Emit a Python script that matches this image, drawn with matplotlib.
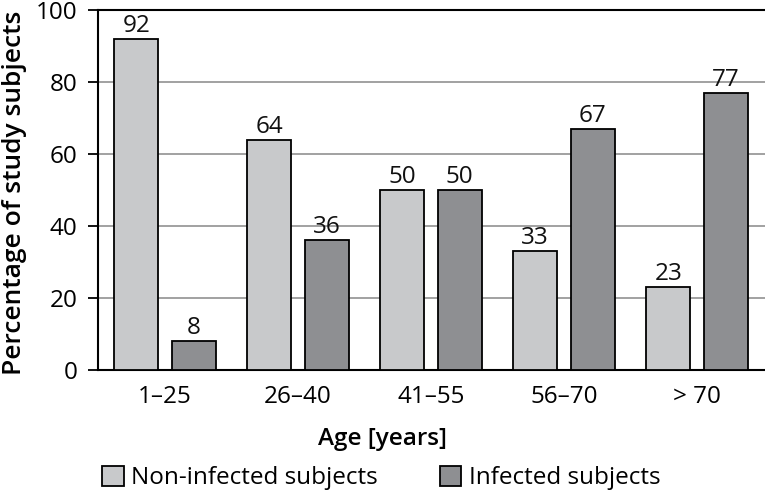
import numpy as np
import matplotlib.pyplot as plt
from matplotlib.patches import Patch

# datos
grupos = ['1–25', '26–40', '41–55', '56–70', '> 70']
no_infectados = [92, 64, 50, 33, 23]
infectados = [8, 36, 50, 67, 77]
yticks = [0, 20, 40, 60, 80, 100]

c_claro = '#c8c9cb'
c_oscuro = '#8e8f92'
fs = 17.5

plt.rcParams['font.family'] = ['Open Sans', 'DejaVu Sans']

fig = plt.figure(figsize=(7.65, 4.96), dpi=100)
ax = fig.add_axes([98/765, 1 - 370/496, 1 - 98/765, 360/496])

x = np.arange(len(grupos))
w = 0.331
off = 0.216
b1 = ax.bar(x - off, no_infectados, w, color=c_claro, edgecolor='black', linewidth=1.3, zorder=3)
b2 = ax.bar(x + off, infectados, w, color=c_oscuro, edgecolor='black', linewidth=1.3, zorder=3)

# etiquetas de valores
for barras, vals in [(b1, no_infectados), (b2, infectados)]:
    for b, v in zip(barras, vals):
        ax.text(b.get_x() + b.get_width()/2, v + 0.3, str(v), ha='center', va='bottom',
                fontsize=fs, color='#111111')

ax.set_xlim(-0.504, 4.511)
ax.set_ylim(0, 100)
ax.set_yticks(yticks)
ax.set_xticks(x)
ax.set_xticklabels(grupos)
ax.tick_params(axis='y', length=7, width=1.3, pad=8, labelsize=fs, colors='black')
ax.tick_params(axis='x', length=0, pad=11, labelsize=fs)

ax.yaxis.grid(True, color='#9a9a9a', linewidth=1.3, zorder=0)
ax.set_axisbelow(True)
for s in ['left', 'bottom', 'top']:
    ax.spines[s].set_linewidth(1.5)
ax.spines['right'].set_visible(False)

fig.text(15/765, 1 - 193/496, 'Percentage of study subjects', rotation=90,
         ha='center', va='center', fontsize=19, fontweight='semibold')
fig.text(0.5, 1 - 439/496, 'Age [years]', ha='center', va='center',
         fontsize=fs, fontweight='semibold')

handles = [Patch(facecolor=c_claro, edgecolor='black', linewidth=1.3),
           Patch(facecolor=c_oscuro, edgecolor='black', linewidth=1.3)]
fig.legend(handles, ['Non-infected subjects', 'Infected subjects'], loc='center',
           bbox_to_anchor=(381/765, 1 - 478/496), ncol=2, frameon=False, fontsize=fs,
           handlelength=0.9, handleheight=0.9, handletextpad=0.3, columnspacing=2.55)

fig.savefig('out.png', dpi=100)
